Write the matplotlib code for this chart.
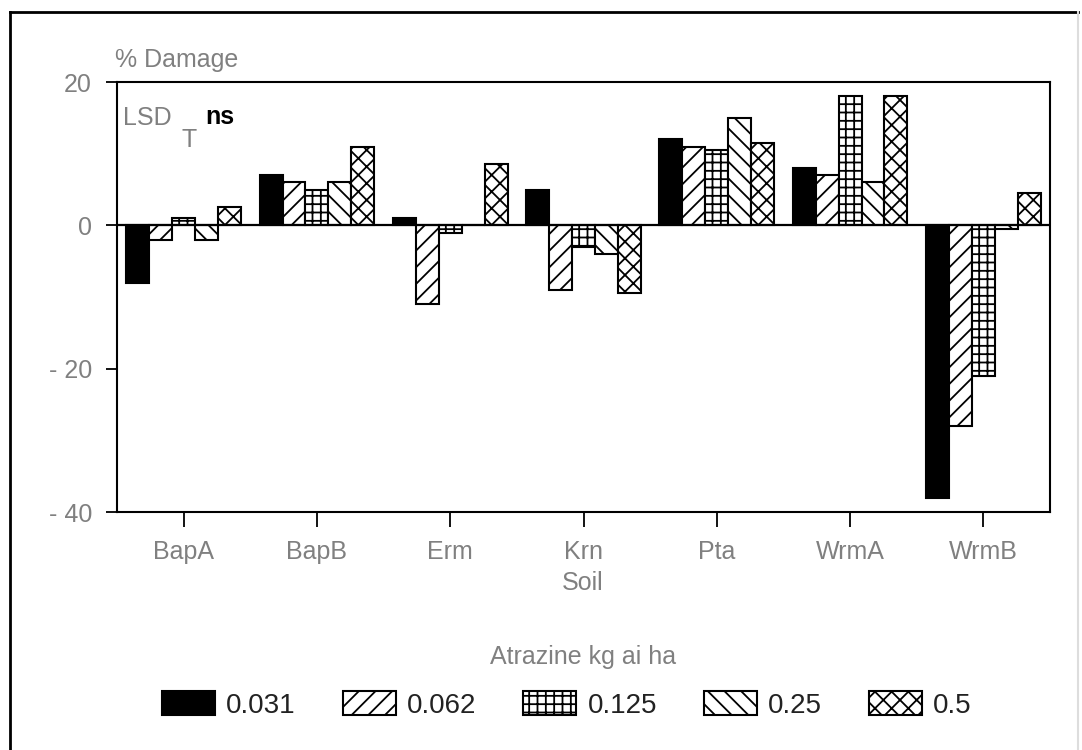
import matplotlib
matplotlib.use('Agg')
import matplotlib.pyplot as plt
import numpy as np
from matplotlib.lines import Line2D

# ---- data ----
soils = ["BapA", "BapB", "Erm", "Krn", "Pta", "WrmA", "WrmB"]
rates = ["0.031", "0.062", "0.125", "0.25", "0.5"]
d031 = [-8, 7, 1, 5, 12, 8, -38]
d062 = [-2, 6, -11, -9, 11, 7, -28]
d125 = [1, 5, -1, -3, 10.5, 18, -21]
d25 = [-2, 6, 0, -4, 15, 6, -0.5]
d5 = [2.5, 11, 8.5, -9.5, 11.5, 18, 4.5]
yticks = [20, 0, -20, -40]
ytick_labels = ["20", "0", "- 20", "- 40"]

FONT = ['Liberation Sans', 'DejaVu Sans']
GRAY = '#808080'
W, H = 1082, 750

def px(x, y):
    return (x / W, 1 - y / H)

plt.rcParams['hatch.linewidth'] = 1.3
plt.rcParams['hatch.color'] = 'black'

fig = plt.figure(figsize=(W / 100, H / 100), dpi=100)
ax = fig.add_axes([117 / W, 1 - 512 / H, (1050 - 117) / W, (512 - 82) / H])

x = np.arange(len(soils))
w = 0.172
series = [d031, d062, d125, d25, d5]
hatches = [None, '//', '++', '\\\\', 'xx']
faces = ['black', 'white', 'white', 'white', 'white']
handles = []
for i, (vals, h, fc) in enumerate(zip(series, hatches, faces)):
    b = ax.bar(x + (i - 2) * w, vals, width=w, color=fc, edgecolor='black',
               hatch=h, linewidth=1.5, label=rates[i], zorder=2)
    handles.append(b)

ax.axhline(0, color='black', lw=1.6, zorder=3)
ax.set_xlim(-0.5, len(soils) - 0.5)
ax.set_ylim(-40, 20)
ax.set_xticks(x)
ax.set_xticklabels(soils, fontfamily=FONT, fontsize=18, color=GRAY)
ax.set_yticks(yticks)
ax.set_yticklabels(ytick_labels, fontfamily=FONT, fontsize=18, color=GRAY)
ax.tick_params(axis='x', direction='out', length=11, width=1.3, pad=9)
ax.tick_params(axis='y', direction='out', length=8, width=1.3, pad=10)
for s in ax.spines.values():
    s.set_linewidth(1.5)

fig.text(*px(115, 60), "% Damage", fontfamily=FONT, fontsize=18, color=GRAY,
         ha='left', va='center')
fig.text(*px(123, 118), "LSD", fontfamily=FONT, fontsize=18, color=GRAY,
         ha='left', va='center')
fig.text(*px(182, 140), "T", fontfamily=FONT, fontsize=18, color=GRAY,
         ha='left', va='center')
fig.text(*px(205, 117), "ns", fontfamily='Liberation Sans', fontweight='bold',
         fontsize=18, color='black', ha='left', va='center')

fig.text(*px(583, 583), "Soil", fontfamily=FONT, fontsize=18, color=GRAY,
         ha='center', va='center')
fig.text(*px(583, 657), "Atrazine kg ai ha", fontfamily=FONT, fontsize=18,
         color=GRAY, ha='center', va='center')

fig.legend(handles, rates, loc='center', bbox_to_anchor=px(567, 705), ncol=5,
           frameon=False, prop=dict(family=FONT, size=20), labelcolor='#222222',
           handlelength=1.9, handleheight=0.95, handletextpad=0.4,
           columnspacing=1.7, borderpad=0)

# outer frame
fig.add_artist(Line2D([10 / W, 10 / W], [0, 1 - 12 / H], transform=fig.transFigure,
                      color='black', lw=2))
fig.add_artist(Line2D([10 / W, 1078 / W], [1 - 12 / H, 1 - 12 / H],
                      transform=fig.transFigure, color='black', lw=2))
fig.add_artist(Line2D([1078 / W, 1078 / W], [0, 1 - 12 / H], transform=fig.transFigure,
                      color='#dddddd', lw=1.5))

fig.savefig('out.png', dpi=100)
